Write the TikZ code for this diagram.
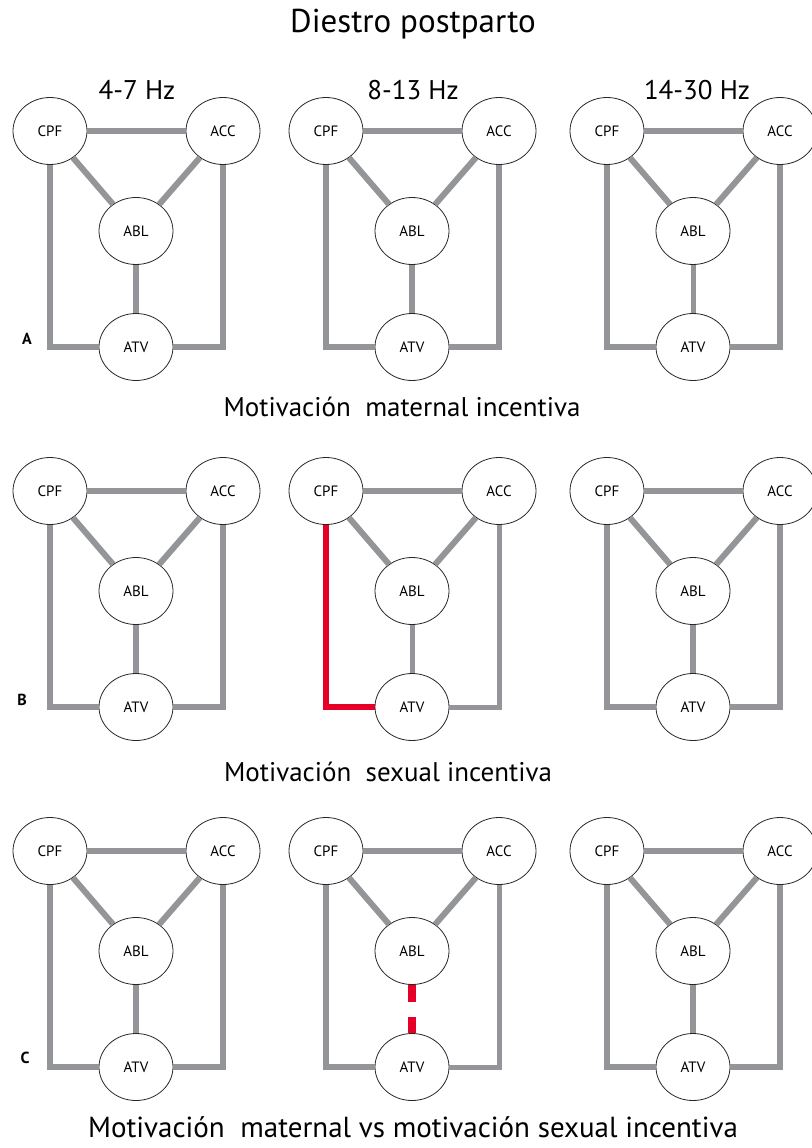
\documentclass[tikz,border=0pt]{standalone}
\usepackage{fontspec}
\setmainfont{PT Sans}
\usetikzlibrary{positioning, shapes.geometric}
\definecolor{gris}{RGB}{147,149,152}
\definecolor{rojo}{RGB}{230,0,40}
\tikzset{
    x=1pt, y=-1pt, % coordinates in pixels of the figure, y going down
    node distance=100pt, % centre to centre (on grid)
    on grid,
    zona/.style={ellipse, draw=black!85, line width=0.8pt, fill=white, minimum width=74pt, minimum height=67pt, inner sep=0pt, font=\fontsize{15}{15}\selectfont},
    enlace/.style={draw=gris, line width=6pt},
    fino/.style={line width=5pt}, % thinner links
    enlace rojo/.style={draw=rojo, line width=6pt},
    titulo/.style={font=\fontsize{27}{27}\selectfont},
    letra/.style={font=\fontsize{16}{16}\selectfont\bfseries},
    % links that differ from the default
    medA3/.style={fino},
    medB2/.style={fino},
    derB2/.style={fino},
    derC2/.style={fino},
    izqB2/.style={enlace rojo},
    medC2/.style={enlace rojo, line width=8pt, dash pattern=on 17pt off 15pt},
}

\begin{document}
\begin{tikzpicture}
    \useasboundingbox (0,0) rectangle (811,1148);

    \node[titulo, font=\fontsize{33}{33}\selectfont] (diestro) at (413,24) {Diestro postparto};
    \node[titulo] (theta) at (137,90) {4-7 Hz};
    \node[titulo] (alfa) at (413,90) {8-13 Hz};
    \node[titulo] (beta) at (697,90) {14-30 Hz};

    \foreach \fila/\dy in {A/0,B/360,C/720}{
        \foreach \col/\dx in {1/0,2/276,3/557}{
            \node[zona] (cpf\fila\col) at (50+\dx,131+\dy) {CPF};
            \node[zona, right=173pt of cpf\fila\col] (acc\fila\col) {ACC};
            \node[zona, below right=100pt and 86pt of cpf\fila\col] (abl\fila\col) {ABL};
            \node[zona, below=116pt of abl\fila\col] (atv\fila\col) {ATV};

            \path
                (cpf\fila\col) edge[enlace] (acc\fila\col)
                (cpf\fila\col) edge[enlace] (abl\fila\col)
                (acc\fila\col) edge[enlace] (abl\fila\col)
                (abl\fila\col) edge[enlace, med\fila\col/.try] (atv\fila\col);
            \draw[enlace, izq\fila\col/.try] (cpf\fila\col) |- (atv\fila\col);
            \draw[enlace, der\fila\col/.try] (acc\fila\col) |- (atv\fila\col);
        }
    }

    \node[letra] (letraA) at (27,339) {A};
    \node[letra] (letraB) at (22,700) {B};
    \node[letra] (letraC) at (25,1058) {C};

    \node[titulo] (maternal) at (402,407) {Motivación\ \ maternal incentiva};
    \node[titulo] (sexual) at (388,772) {Motivación\ \ sexual incentiva};
    \node[titulo, font=\fontsize{29}{29}\selectfont] (versus) at (413,1127) {Motivación\ \ maternal vs motivación sexual incentiva};
\end{tikzpicture}
\end{document}
